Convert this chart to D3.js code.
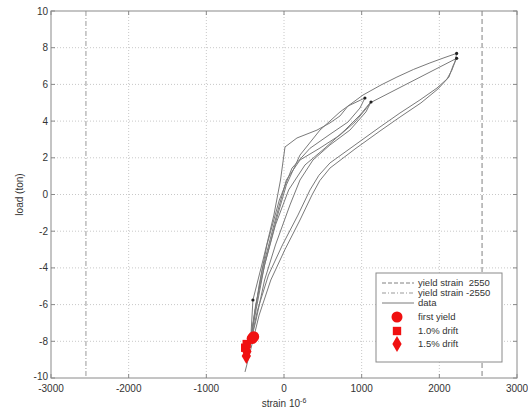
<!DOCTYPE html>
<html>
<head>
<meta charset="utf-8">
<script src="https://cdn.jsdelivr.net/npm/d3@7"></script>
<style>
  html, body { margin: 0; padding: 0; background: #fff; }
  svg { display: block; font-family: "Liberation Sans", Arial, sans-serif; }
</style>
</head>
<body>
<svg id="chart" width="528" height="419"></svg>
<script>
// Axis ticks
const xTicks = [-3000, -2000, -1000, 0, 1000, 2000, 3000];
const yTicks = [-10, -8, -6, -4, -2, 0, 2, 4, 6, 8, 10];

// Yield strain limits
const yieldPos = 2550;
const yieldNeg = -2550;

// Measured strain (10^-6) and load (ton), recorded in loading order
const strain = [
  -430, -400, -270, -130, -45, 13, 167, 425, 592, 721, 824, 1042,
  978, 824, 592, 335, 103, -60, -220, -320, -390, -440,
  -370, -280, -130, 30, 206, 463, 721, 914, 1042, 1120,
  1055, 849, 592, 373, 206, 77, -110, -250, -360, -460,
  -360, -250, -100, 30, 206, 463, 721, 1017, 1250, 1454, 1670, 1879, 2060, 2223,
  2201, 2162, 2098, 1969, 1750, 1493, 1236, 914, 592, 450, 335, 180, -20, -200, -340, -440,
  -365, -250, -110, 60, 270, 528, 785, 978, 1107, 2223,
  2175, 2124, 1982, 1763, 1493, 1236, 914, 592, 460, 360, 206, 10, -170, -320, -430, -502
];
const load = [
  -8.00, -5.75, -3.57, -1.12, 0.79, 2.59, 3.08, 3.51, 3.90, 4.28, 4.82, 5.26,
  4.71, 3.95, 3.28, 2.52, 1.44, -0.30, -2.75, -4.93, -6.84, -8.20,
  -6.29, -4.11, -1.66, 0.79, 1.88, 2.53, 3.24, 3.95, 4.60, 5.04,
  4.50, 3.51, 2.70, 1.88, 0.79, -0.57, -2.75, -4.66, -6.84, -8.58,
  -6.29, -3.84, -1.39, 0.52, 2.15, 3.51, 4.50, 5.42, 5.97, 6.40, 6.82, 7.17, 7.45, 7.69,
  7.22, 6.78, 6.29, 5.80, 5.15, 4.44, 3.68, 2.70, 1.72, 1.05, 0.25, -1.12, -2.75, -4.39, -6.29, -8.20,
  -6.02, -3.84, -1.66, 0.25, 1.61, 2.53, 3.51, 4.33, 4.99, 7.42,
  7.00, 6.40, 5.75, 4.99, 4.22, 3.46, 2.48, 1.44, 0.75, -0.03, -1.39, -3.02, -4.66, -6.57, -8.47, -9.67
];

// Cycle peaks marked on the record
const peakStrain = [1042, 1120, 2223, 2223, -400];
const peakLoad = [5.26, 5.04, 7.69, 7.42, -5.75];

// Event markers
const firstYieldStrain = [-410, -390];
const firstYieldLoad = [-7.85, -7.75];
const drift10Strain = [-500, -480];
const drift10Load = [-8.35, -8.15];
const drift15Strain = [-485, -478];
const drift15Load = [-8.8, -8.55];

const svg = d3.select("#chart");
const plotL = 51, plotR = 517, plotT = 11, plotB = 378;

const x = d3.scaleLinear().domain([-3000, 3000]).range([plotL, plotR]);
const y = d3.scaleLinear().domain([-10, 10]).range([plotB, plotT]);

const frameColor = "#8a8a8a";
const textColor = "#333";

// Grid
const grid = svg.append("g");
grid.selectAll("line.gx").data(xTicks.slice(1, -1)).join("line")
  .attr("class", "gx")
  .attr("x1", d => x(d)).attr("x2", d => x(d))
  .attr("y1", plotT).attr("y2", plotB)
  .attr("stroke", "#c8c8c8").attr("stroke-width", 1)
  .attr("stroke-dasharray", "1,2");
grid.selectAll("line.gy").data(yTicks.slice(1, -1)).join("line")
  .attr("class", "gy")
  .attr("x1", plotL).attr("x2", plotR)
  .attr("y1", d => y(d)).attr("y2", d => y(d))
  .attr("stroke", "#c8c8c8").attr("stroke-width", 1)
  .attr("stroke-dasharray", "1,2");

// Yield strain lines
svg.append("line")
  .attr("x1", x(yieldPos)).attr("x2", x(yieldPos))
  .attr("y1", plotT).attr("y2", plotB)
  .attr("stroke", "#808080").attr("stroke-width", 1)
  .attr("stroke-dasharray", "5,3");
svg.append("line")
  .attr("x1", x(yieldNeg)).attr("x2", x(yieldNeg))
  .attr("y1", plotT).attr("y2", plotB)
  .attr("stroke", "#999").attr("stroke-width", 1)
  .attr("stroke-dasharray", "5,2,1,2");

// Data trace
const pts = strain.map((s, i) => [s, load[i]]);
svg.append("path")
  .datum(pts)
  .attr("fill", "none")
  .attr("stroke", "#7a7a7a")
  .attr("stroke-width", 1)
  .attr("stroke-linejoin", "round")
  .attr("d", d3.line().x(d => x(d[0])).y(d => y(d[1])));

// Peak dots
svg.selectAll("circle.peak").data(peakStrain.map((s, i) => [s, peakLoad[i]])).join("circle")
  .attr("class", "peak")
  .attr("cx", d => x(d[0])).attr("cy", d => y(d[1]))
  .attr("r", 1.6).attr("fill", "#222");

// Event markers
const red = "#f01010";
const sym = {
  circle: d3.symbol().type(d3.symbolCircle).size(95),
  square: d3.symbol().type(d3.symbolSquare).size(70),
  diamond: d3.symbol().type(d3.symbolDiamond).size(75)
};
function drawMarkers(xs, ys, gen) {
  svg.append("g").selectAll("path").data(xs.map((s, i) => [s, ys[i]])).join("path")
    .attr("transform", d => `translate(${x(d[0])},${y(d[1])})`)
    .attr("d", gen).attr("fill", red);
}
drawMarkers(drift15Strain, drift15Load, sym.diamond);
drawMarkers(drift10Strain, drift10Load, sym.square);
drawMarkers(firstYieldStrain, firstYieldLoad, sym.circle);

// Axes frame with inward ticks on all four sides
const tickLen = 4;
const axes = svg.append("g");
axes.append("rect")
  .attr("x", plotL).attr("y", plotT)
  .attr("width", plotR - plotL).attr("height", plotB - plotT)
  .attr("fill", "none").attr("stroke", frameColor).attr("stroke-width", 1);

axes.selectAll("line.tb").data(xTicks).join("line")
  .attr("class", "tb")
  .attr("x1", d => x(d)).attr("x2", d => x(d))
  .attr("y1", plotB).attr("y2", plotB - tickLen)
  .attr("stroke", frameColor);
axes.selectAll("line.tt").data(xTicks).join("line")
  .attr("class", "tt")
  .attr("x1", d => x(d)).attr("x2", d => x(d))
  .attr("y1", plotT).attr("y2", plotT + tickLen)
  .attr("stroke", frameColor);
axes.selectAll("line.tl").data(yTicks).join("line")
  .attr("class", "tl")
  .attr("x1", plotL).attr("x2", plotL + tickLen)
  .attr("y1", d => y(d)).attr("y2", d => y(d))
  .attr("stroke", frameColor);
axes.selectAll("line.tr").data(yTicks).join("line")
  .attr("class", "tr")
  .attr("x1", plotR).attr("x2", plotR - tickLen)
  .attr("y1", d => y(d)).attr("y2", d => y(d))
  .attr("stroke", frameColor);

// Tick labels
axes.selectAll("text.xl").data(xTicks).join("text")
  .attr("class", "xl")
  .attr("x", d => x(d)).attr("y", plotB + 13.5)
  .attr("text-anchor", "middle")
  .attr("font-size", 10).attr("fill", textColor)
  .text(d => d);
axes.selectAll("text.yl").data(yTicks).join("text")
  .attr("class", "yl")
  .attr("x", plotL - 3).attr("y", d => y(d) + (d === -10 ? 2 : 3.5))
  .attr("text-anchor", "end")
  .attr("font-size", 10).attr("fill", textColor)
  .text(d => d);

// Axis titles
const xt = svg.append("text")
  .attr("x", x(0)).attr("y", 407)
  .attr("text-anchor", "middle")
  .attr("font-size", 10).attr("fill", textColor);
xt.append("tspan").text("strain 10");
xt.append("tspan").attr("dy", -4).attr("font-size", 7).text("-6");

svg.append("text")
  .attr("transform", `translate(23,${y(0)}) rotate(-90)`)
  .attr("text-anchor", "middle")
  .attr("font-size", 10).attr("fill", textColor)
  .text("load (ton)");

// Legend
const lg = svg.append("g");
lg.append("rect")
  .attr("x", 376).attr("y", 273).attr("width", 126).attr("height", 89)
  .attr("fill", "#fff").attr("stroke", frameColor).attr("stroke-width", 1);

const legendLines = [
  { label: "yield strain  2550", dash: "4,2", color: "#808080", y: 283 },
  { label: "yield strain -2550", dash: "4,2,1,2", color: "#999", y: 293 },
  { label: "data", dash: null, color: "#7a7a7a", y: 303 }
];
legendLines.forEach(e => {
  lg.append("line")
    .attr("x1", 382).attr("x2", 414).attr("y1", e.y).attr("y2", e.y)
    .attr("stroke", e.color).attr("stroke-width", 1)
    .attr("stroke-dasharray", e.dash);
  lg.append("text")
    .attr("x", 418).attr("y", e.y + 3.3)
    .attr("font-size", 9.5).attr("fill", textColor)
    .style("white-space", "pre")
    .text(e.label);
});

const legendMarks = [
  { label: "first yield", gen: sym.circle, y: 317 },
  { label: "1.0% drift", gen: sym.square, y: 331 },
  { label: "1.5% drift", gen: sym.diamond, y: 344 }
];
legendMarks.forEach(e => {
  lg.append("path")
    .attr("transform", `translate(397,${e.y})`)
    .attr("d", e.gen).attr("fill", red);
  lg.append("text")
    .attr("x", 418).attr("y", e.y + 3.3)
    .attr("font-size", 9.5).attr("fill", textColor)
    .text(e.label);
});
</script>
</body>
</html>
